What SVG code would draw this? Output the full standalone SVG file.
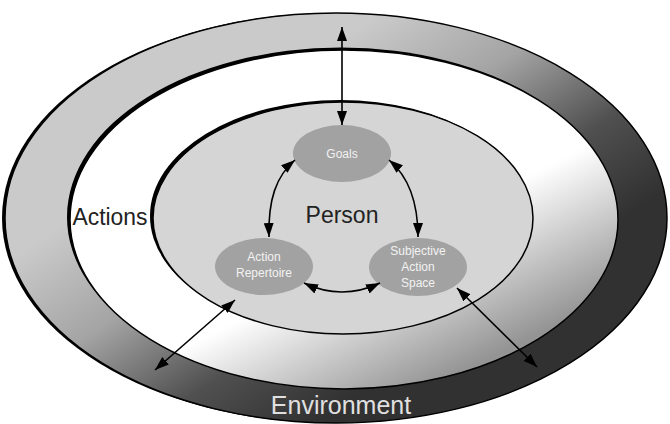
<svg xmlns="http://www.w3.org/2000/svg" width="670" height="424" viewBox="0 0 670 424">
<defs>
<linearGradient id="gEnv" gradientUnits="userSpaceOnUse" x1="100" y1="200" x2="269" y2="454">
<stop offset="0" stop-color="#cacaca"/>
<stop offset="0.35" stop-color="#a4a4a4"/>
<stop offset="0.7" stop-color="#505050"/>
<stop offset="1" stop-color="#313131"/>
</linearGradient>
<linearGradient id="gAct" gradientUnits="userSpaceOnUse" x1="300" y1="290" x2="365" y2="420">
<stop offset="0" stop-color="#ffffff"/>
<stop offset="1" stop-color="#949494"/>
</linearGradient>
<marker id="ah" viewBox="0 0 14 10" refX="14" refY="5" markerWidth="14" markerHeight="10" markerUnits="userSpaceOnUse" orient="auto-start-reverse">
<path d="M0,0 L14,5 L0,10 Z" fill="#000"/>
</marker>
<filter id="soft" x="-5%" y="-5%" width="110%" height="110%"><feGaussianBlur stdDeviation="0.7"/></filter>
</defs>
<style>
.shadow{fill:#000;filter:url(#soft)}
.ring{stroke:#000;stroke-width:1.5}
.node{fill:#a2a2a2}
.nl{font-family:"Liberation Sans",Arial,sans-serif;font-size:12px;fill:#f2f2f2;text-anchor:middle}
.big{font-family:"Liberation Sans",Arial,sans-serif;text-anchor:middle}
.conn{fill:none;stroke:#000;stroke-width:1.6;marker-start:url(#ah);marker-end:url(#ah)}
</style>
<rect width="670" height="424" fill="#fff"/>
<g id="environment">
<ellipse class="shadow" cx="333" cy="218" rx="331" ry="205"/>
<ellipse class="ring" cx="336" cy="218" rx="331" ry="205" fill="url(#gEnv)"/>
<text class="big" x="341" y="414" font-size="25" fill="#e0e0e0">Environment</text>
</g>
<g id="actions">
<ellipse class="shadow" cx="341" cy="217" rx="274" ry="169.5"/>
<ellipse class="ring" cx="344" cy="219.5" rx="274" ry="169.5" fill="url(#gAct)"/>
<text class="big" x="110" y="225" font-size="23" fill="#222" textLength="75" lengthAdjust="spacingAndGlyphs">Actions</text>
</g>
<g id="person">
<ellipse class="shadow" cx="340" cy="216" rx="190" ry="116"/>
<ellipse class="ring" cx="343" cy="218" rx="190" ry="116" fill="#d5d5d5"/>
<text class="big" x="342" y="223" font-size="23" fill="#222">Person</text>
</g>
<g id="goals">
<ellipse class="node" cx="342" cy="153.5" rx="49" ry="28.5"/>
<text class="nl" x="342" y="157.5" font-size="11">Goals</text>
</g>
<g id="action-repertoire">
<ellipse class="node" cx="264" cy="266.5" rx="49" ry="28.5"/>
<text class="nl" x="264" y="261">Action</text>
<text class="nl" x="264" y="277">Repertoire</text>
</g>
<g id="subjective-action-space">
<ellipse class="node" cx="418" cy="267" rx="49" ry="29"/>
<text class="nl" x="418" y="255">Subjective</text>
<text class="nl" x="418" y="271">Action</text>
<text class="nl" x="418" y="287">Space</text>
</g>
<g id="connectors">
<path class="conn" d="M342,27 L342,125"/>
<path class="conn" d="M295,160 C276,176 268,200 269,237"/>
<path class="conn" d="M389,160 C408,176 418,200 418,237"/>
<path class="conn" d="M304,283 Q342,301 380,283"/>
<path class="conn" d="M235,300 L155,370"/>
<path class="conn" d="M457,288 L537,367"/>
</g>
</svg>
